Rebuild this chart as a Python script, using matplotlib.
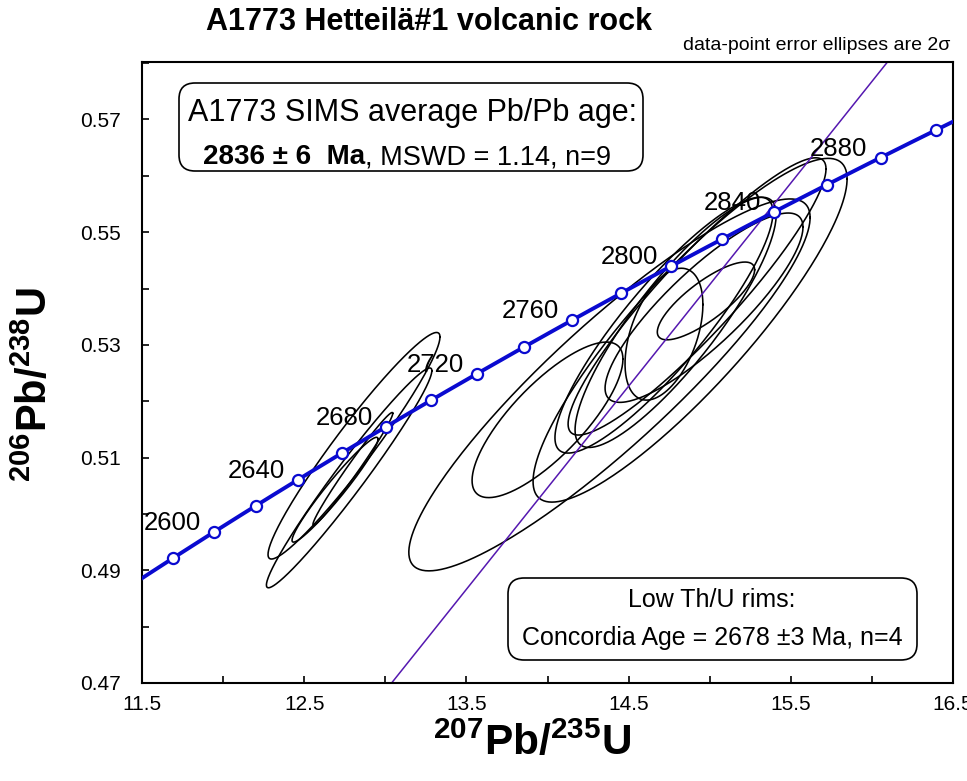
import numpy as np
import matplotlib
matplotlib.use("Agg")
import matplotlib.pyplot as plt
from matplotlib.patches import FancyBboxPatch
from matplotlib.transforms import IdentityTransform

plt.rcParams['font.family'] = ['Liberation Sans', 'DejaVu Sans']
plt.rcParams['mathtext.fontset'] = 'custom'
plt.rcParams['mathtext.rm'] = 'Liberation Sans'
plt.rcParams['mathtext.bf'] = 'Liberation Sans:bold'

# decay constants (1/yr)
L238 = 1.55125e-10
L235 = 9.8485e-10

# concordia ticks (Ma)
tick_ages = list(range(2580, 2901, 20))
label_ages = list(range(2600, 2881, 40))

# low Th/U rims: 207/235, 206/238, 2s errors, error correlation
rim_x = [12.807, 12.777, 12.69, 12.80]
rim_y = [0.5121, 0.5064, 0.5043, 0.5080]
rim_xerr = [0.53, 0.51, 0.265, 0.246]
rim_yerr = [0.0201, 0.0195, 0.0093, 0.0100]
rim_rho = [0.96, 0.975, 0.965, 0.985]

# magmatic zircon
zr_x = [14.382, 14.00, 14.718, 14.977, 14.965, 14.879, 14.718, 14.922, 14.79]
zr_y = [0.5229, 0.5167, 0.5319, 0.5378, 0.5366, 0.5326, 0.5335, 0.5386, 0.5340]
zr_xerr = [1.237, 0.465, 0.24, 0.30, 0.61, 0.968, 0.672, 0.795, 0.62]
zr_yerr = [0.0330, 0.0138, 0.0117, 0.0069, 0.0168, 0.0305, 0.0227, 0.0246, 0.0222]
zr_rho = [0.90, 0.78, 0.45, 0.80, 0.85, 0.88, 0.88, 0.92, 0.86]

pbpb_age = 2836


def conc(t_ma):
    t = np.asarray(t_ma) * 1e6
    return np.exp(L235 * t) - 1, np.exp(L238 * t) - 1


def ellipse(ax, cx, cy, ex, ey, rho):
    t = np.linspace(0, 2 * np.pi, 300)
    x = cx + ex * np.cos(t)
    y = cy + ey * (rho * np.cos(t) + np.sqrt(1 - rho ** 2) * np.sin(t))
    ax.plot(x, y, color='black', lw=1.15, zorder=2)


W, H = 967, 781
fig = plt.figure(figsize=(W / 100, H / 100), dpi=100)
ax = fig.add_axes([142 / W, 1 - 683 / H, (953 - 142) / W, (683 - 62) / H])

for i in range(len(rim_x)):
    ellipse(ax, rim_x[i], rim_y[i], rim_xerr[i], rim_yerr[i], rim_rho[i])
for i in range(len(zr_x)):
    ellipse(ax, zr_x[i], zr_y[i], zr_xerr[i], zr_yerr[i], zr_rho[i])

# Pb/Pb age line through origin
cx_, cy_ = conc(pbpb_age)
xs = np.array([0, 20])
ax.plot(xs, xs * cy_ / cx_, color='#5518b0', lw=1.1, zorder=2.5)

# concordia curve
ages = np.linspace(2400, 3100, 500)
cx, cy = conc(ages)
ax.plot(cx, cy, color='#0a0ad0', lw=2.8, zorder=3, solid_capstyle='butt')
tx, ty = conc(tick_ages)
ax.plot(tx, ty, 'o', ms=8, mfc='white', mec='#0a0ad0', mew=1.6, zorder=4)
for a in label_ages:
    px, py = conc(a)
    ax.annotate(str(a), (px, py), xytext=(-13, 2), textcoords='offset pixels',
                ha='right', va='baseline', fontsize=18.5, zorder=5)

ax.set_xlim(11.5, 16.5)
ax.set_ylim(0.47, 0.5802)
ax.set_xticks(np.arange(11.5, 16.51, 1.0))
ax.set_xticks(np.arange(12.0, 16.1, 1.0), minor=True)
ax.set_xticklabels(['11.5', '12.5', '13.5', '14.5', '15.5', '16.5'])
ax.set_yticks(np.arange(0.47, 0.5701, 0.02))
ax.set_yticks(np.arange(0.48, 0.581, 0.02), minor=True)
ax.set_yticklabels(['0.47', '0.49', '0.51', '0.53', '0.55', '0.57'])
ax.tick_params(which='both', direction='in', length=5, width=1.2,
               top=False, right=False, labelsize=15)
ax.tick_params(axis='y', pad=15)
ax.tick_params(axis='x', pad=9)
for s in ax.spines.values():
    s.set_linewidth(1.5)

fig.text(532 / W, 1 - 743 / H, r'$\mathbf{^{207}Pb/^{235}U}$', fontsize=30.5,
         ha='center', va='center')
fig.text(35 / W, 1 - 385 / H, r'$\mathbf{^{206}Pb/^{238}U}$', fontsize=30,
         ha='center', va='center', rotation=90)
fig.text(429 / W, 1 - 22 / H, 'A1773 Hetteilä#1 volcanic rock', fontsize=22,
         fontweight='bold', ha='center', va='center')
fig.text(950 / W, 1 - 45 / H, 'data-point error ellipses are 2σ', fontsize=14,
         ha='right', va='center')


def box(x0, y0, x1, y1):
    p = FancyBboxPatch((x0, H - y1), x1 - x0, y1 - y0,
                       boxstyle='round,pad=0,rounding_size=16',
                       transform=IdentityTransform(), fc='white', ec='black', lw=1.2)
    fig.add_artist(p)


box(179, 83, 643, 171)
fig.text(413 / W, 1 - 113 / H, 'A1773 SIMS average Pb/Pb age:', fontsize=22,
         ha='center', va='center')
t_age = fig.text(203 / W, 1 - 157 / H, '2836 ± 6  Ma', fontsize=20, fontweight='bold',
                 ha='left', va='center')
fig.canvas.draw()
bb = t_age.get_window_extent()
fig.text(bb.x1 / W, 1 - 157 / H, ', MSWD = 1.14, n=9', fontsize=19.5,
         ha='left', va='center')

box(508, 578, 917, 660)
fig.text(712 / W, 1 - 600 / H, 'Low Th/U rims:', fontsize=18, ha='center', va='center')
fig.text(712 / W, 1 - 638 / H, 'Concordia Age = 2678 ±3 Ma, n=4', fontsize=18,
         ha='center', va='center')

fig.savefig('out.png', dpi=100)
